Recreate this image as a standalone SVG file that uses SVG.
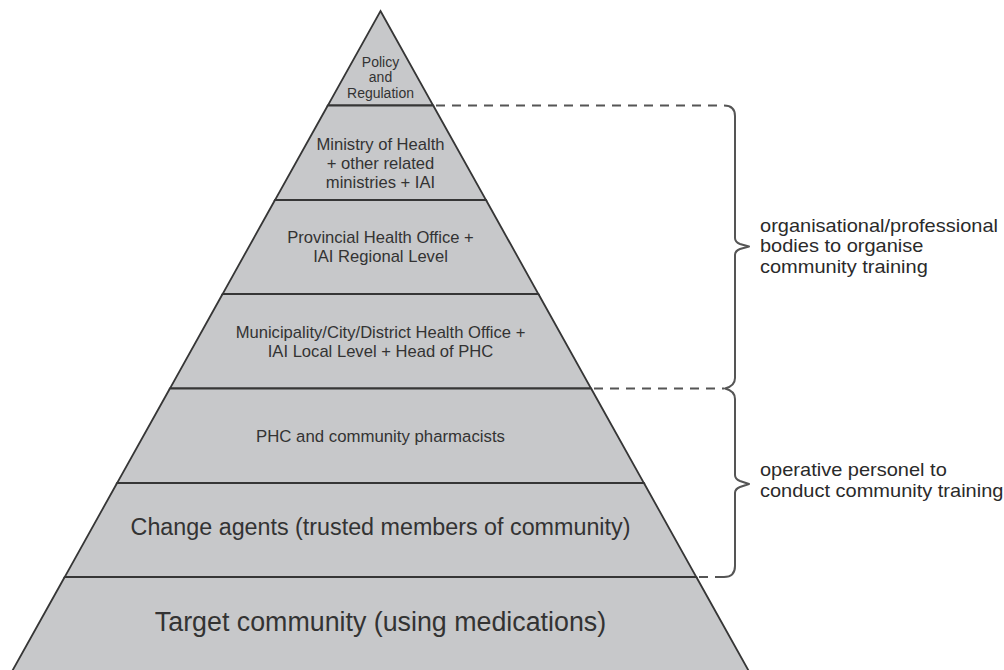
<svg xmlns="http://www.w3.org/2000/svg" width="1004" height="670" viewBox="0 0 1004 670">
<style>
.layer{fill:#c7c8ca;stroke:#363636;stroke-width:1.8;stroke-linejoin:miter}
.t{font-family:"Liberation Sans",Arial,sans-serif;fill:#333;text-anchor:middle}
.side{font-family:"Liberation Sans",Arial,sans-serif;fill:#2a2a2a;font-size:19px}
.dash{fill:none;stroke:#555;stroke-width:2;stroke-dasharray:9 7}
.brace{fill:none;stroke:#555;stroke-width:2;stroke-linejoin:round}
</style>
<rect width="1004" height="670" fill="#fff"/>
<g id="policy">
<polygon class="layer" points="380.5,11 433.2,105.5 327.8,105.5"/>
<text class="t" font-size="14" x="380.5" y="66.5">Policy</text>
<text class="t" font-size="14" x="380.5" y="82">and</text>
<text class="t" font-size="14" x="380.5" y="97.5">Regulation</text>
</g>
<g id="ministry">
<polygon class="layer" points="327.8,105.5 433.2,105.5 486,200 275,200"/>
<text class="t" font-size="16.6" x="380.5" y="150">Ministry of Health</text>
<text class="t" font-size="16.6" x="380.5" y="169">+ other related</text>
<text class="t" font-size="16.6" x="380.5" y="188">ministries + IAI</text>
</g>
<g id="provincial">
<polygon class="layer" points="275,200 486,200 538.4,294 222.6,294"/>
<text class="t" font-size="16.6" x="380.5" y="242.7">Provincial Health Office +</text>
<text class="t" font-size="16.6" x="380.5" y="261.5">IAI Regional Level</text>
</g>
<g id="municipality">
<polygon class="layer" points="222.6,294 538.4,294 591.1,388.5 169.9,388.5"/>
<text class="t" font-size="16.6" x="380.5" y="337.7">Municipality/City/District Health Office +</text>
<text class="t" font-size="16.6" x="380.5" y="357">IAI Local Level + Head of PHC</text>
</g>
<g id="phc">
<polygon class="layer" points="169.9,388.5 591.1,388.5 643.9,483 117.1,483"/>
<text class="t" font-size="16.8" x="380.5" y="442">PHC and community pharmacists</text>
</g>
<g id="change-agents">
<polygon class="layer" points="117.1,483 643.9,483 696.3,577 64.7,577"/>
<text class="t" font-size="23.3" x="380.5" y="535">Change agents (trusted members of community)</text>
</g>
<g id="target">
<polygon class="layer" points="64.7,577 696.3,577 751,675 10,675"/>
<text class="t" font-size="26.8" x="380.5" y="631">Target community (using medications)</text>
</g>
<g id="connectors">
<path class="dash" d="M436 105.5 H724"/>
<path class="dash" d="M594 388.5 H724"/>
<path class="dash" d="M699 577 H724"/>
<path class="brace" d="M724 105.5 Q735 105.5 735 116 L735 238 Q735 242 740 244 L749 246.5 L740 249 Q735 251 735 255 L735 378 Q735 386 725 388.5 Q735 391 735 399 L735 475 Q735 479 740 481 L749 484 L740 487 Q735 489 735 493 L735 566 Q735 577 724 577"/>
</g>
<g id="label-organisational">
<text class="side" x="760" y="231.5" textLength="238" lengthAdjust="spacingAndGlyphs">organisational/professional</text>
<text class="side" x="760" y="252" textLength="163.4" lengthAdjust="spacingAndGlyphs">bodies to organise</text>
<text class="side" x="760" y="272.5" textLength="167.8" lengthAdjust="spacingAndGlyphs">community training</text>
</g>
<g id="label-operative">
<text class="side" x="760" y="475.5" textLength="186.8" lengthAdjust="spacingAndGlyphs">operative personel to</text>
<text class="side" x="760" y="496.5" textLength="243.4" lengthAdjust="spacingAndGlyphs">conduct community training</text>
</g>
</svg>
